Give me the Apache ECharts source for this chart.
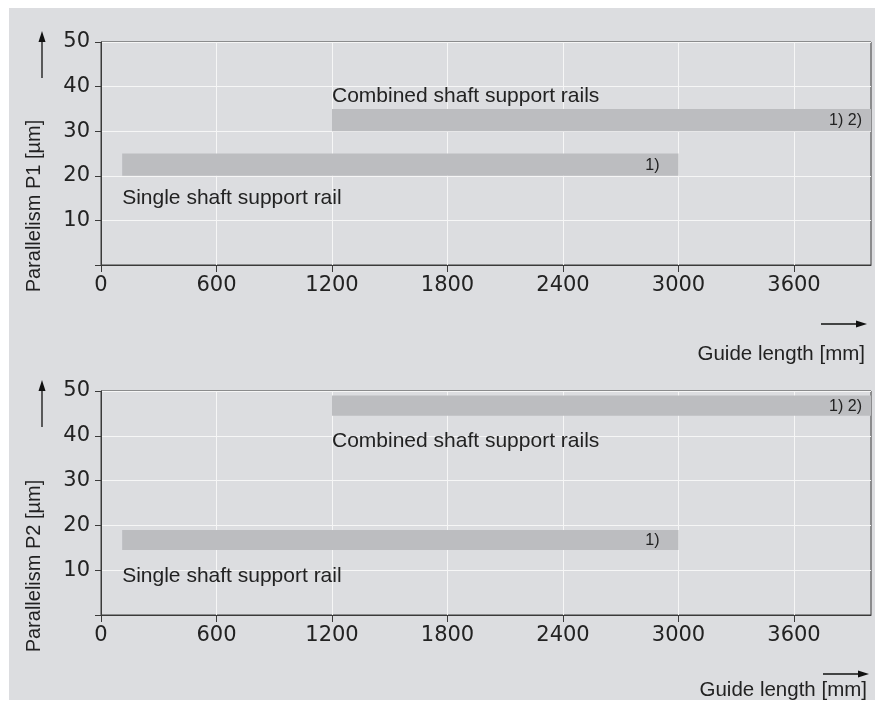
<!DOCTYPE html>
<html>
<head>
<meta charset="utf-8">
<script src="https://cdn.jsdelivr.net/npm/echarts@6/dist/echarts.min.js"></script>
<style>
html,body{margin:0;padding:0;background:#ffffff;}
#bg{position:absolute;left:9px;top:8px;width:866px;height:692px;background:#dcdde0;}
#chart{position:absolute;left:0;top:0;width:875px;height:708px;}
</style>
</head>
<body>
<div id="bg"></div>
<div id="chart"></div>
<script>
// ---- data ----
const xTicks = [0, 600, 1200, 1800, 2400, 3000, 3600];
const yTicks = [10, 20, 30, 40, 50];
const barNames = ['Single shaft support rail', 'Combined shaft support rails'];
const barNotes = ['1)', '1) 2)'];
const barStart = [110, 1200];
const barEnd = [3000, 4000];
const p1Low = [20, 30];
const p1High = [25, 35];
const p2Low = [14.5, 44.5];
const p2High = [19, 49];
const xMax = 4000;
const yMax = 50;
const yTitles = ['Parallelism P1 [\u00b5m]', 'Parallelism P2 [\u00b5m]'];
const xTitle = 'Guide length [mm]';

// ---- styles ----
const TXT = '#222222';
const AXIS = '#3a3a3a';
const BAR = '#bcbdc0';
const FONT = 'Liberation Sans';
const TICKFONT = 'DejaVu Sans';
const nameOffsets = [
  [{edge: 'bottom', dy: 22}, {edge: 'top', dy: -13}],
  [{edge: 'bottom', dy: 26}, {edge: 'bottom', dy: 26}]
];
const noteInset = [19, 9];

function makeData(low, high) {
  return barNames.map((n, i) => [barStart[i], barEnd[i], low[i], high[i], i]);
}

function renderer(panel) {
  return function (params, api) {
    const i = api.value(4);
    const p0 = api.coord([api.value(0), api.value(3)]);
    const p1 = api.coord([api.value(1), api.value(2)]);
    const off = nameOffsets[panel][i];
    const ny = (off.edge === 'top' ? p0[1] : p1[1]) + off.dy;
    return {
      type: 'group',
      children: [
        {type: 'rect', shape: {x: p0[0], y: p0[1], width: p1[0] - p0[0], height: p1[1] - p0[1]},
         style: {fill: BAR}},
        {type: 'text', style: {text: barNotes[i], x: p1[0] - noteInset[i], y: (p0[1] + p1[1]) / 2 + 1,
          align: 'right', verticalAlign: 'middle', fill: TXT, font: '16px "' + FONT + '"'}},
        {type: 'text', style: {text: barNames[i], x: p0[0], y: ny,
          align: 'left', verticalAlign: 'middle', fill: TXT, font: '21px "' + FONT + '"'}}
      ]
    };
  };
}

const plainFmt = v => String(v);

function xAxisCfg(idx) {
  return {
    type: 'value', gridIndex: idx, min: 0, max: xMax, interval: 600,
    axisLine: {show: true, lineStyle: {color: AXIS, width: 1}},
    axisTick: {show: true, length: 7, customValues: xTicks, lineStyle: {color: AXIS}},
    axisLabel: {customValues: xTicks, formatter: plainFmt, margin: 10, color: TXT, fontSize: 21, fontFamily: TICKFONT},
    splitLine: {show: true, lineStyle: {color: '#f6f6f6', width: 1}}
  };
}
function yAxisCfg(idx) {
  return {
    type: 'value', gridIndex: idx, min: 0, max: yMax, interval: 10,
    axisLine: {show: true, lineStyle: {color: AXIS, width: 1}},
    axisTick: {show: true, length: 6, lineStyle: {color: AXIS}},
    axisLabel: {customValues: yTicks, formatter: plainFmt, margin: 11, color: TXT, fontSize: 21, fontFamily: TICKFONT},
    splitLine: {show: true, lineStyle: {color: '#f6f6f6', width: 1}}
  };
}

const chart = echarts.init(document.getElementById('chart'), null, {renderer: 'canvas'});
const arrowLine = {stroke: '#111', lineWidth: 1.3};
chart.setOption({
  animation: false,
  backgroundColor: 'transparent',
  grid: [
    {left: 101, top: 42, width: 770, height: 223, show: true, borderColor: AXIS, borderWidth: 1, backgroundColor: 'transparent'},
    {left: 101, top: 391, width: 770, height: 224, show: true, borderColor: AXIS, borderWidth: 1, backgroundColor: 'transparent'}
  ],
  xAxis: [xAxisCfg(0), xAxisCfg(1)],
  yAxis: [yAxisCfg(0), yAxisCfg(1)],
  series: [
    {type: 'custom', xAxisIndex: 0, yAxisIndex: 0, renderItem: renderer(0), data: makeData(p1Low, p1High), clip: false},
    {type: 'custom', xAxisIndex: 1, yAxisIndex: 1, renderItem: renderer(1), data: makeData(p2Low, p2High), clip: false}
  ],
  graphic: [
    {type: 'text', x: 34, y: 206, rotation: Math.PI / 2,
     style: {text: yTitles[0], align: 'center', verticalAlign: 'middle', fill: TXT, font: '20px "' + FONT + '"'}},
    {type: 'text', x: 34, y: 566, rotation: Math.PI / 2,
     style: {text: yTitles[1], align: 'center', verticalAlign: 'middle', fill: TXT, font: '20px "' + FONT + '"'}},
    {type: 'line', shape: {x1: 42, y1: 78, x2: 42, y2: 40}, style: arrowLine},
    {type: 'polygon', shape: {points: [[42, 31], [38.5, 42], [45.5, 42]]}, style: {fill: '#111'}},
    {type: 'line', shape: {x1: 42, y1: 427, x2: 42, y2: 389}, style: arrowLine},
    {type: 'polygon', shape: {points: [[42, 380], [38.5, 391], [45.5, 391]]}, style: {fill: '#111'}},
    {type: 'line', shape: {x1: 821, y1: 324, x2: 858, y2: 324}, style: arrowLine},
    {type: 'polygon', shape: {points: [[867, 324], [856, 320.5], [856, 327.5]]}, style: {fill: '#111'}},
    {type: 'line', shape: {x1: 823, y1: 674, x2: 860, y2: 674}, style: arrowLine},
    {type: 'polygon', shape: {points: [[869, 674], [858, 670.5], [858, 677.5]]}, style: {fill: '#111'}},
    {type: 'text', x: 865, y: 354,
     style: {text: xTitle, align: 'right', verticalAlign: 'middle', fill: TXT, font: '20.5px "' + FONT + '"'}},
    {type: 'text', x: 867, y: 690,
     style: {text: xTitle, align: 'right', verticalAlign: 'middle', fill: TXT, font: '20.5px "' + FONT + '"'}}
  ]
});
</script>
</body>
</html>
